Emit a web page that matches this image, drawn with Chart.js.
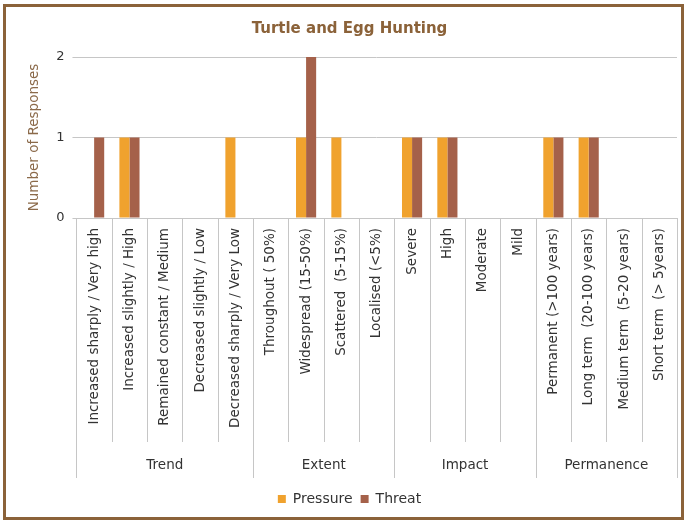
<!DOCTYPE html>
<html>
<head>
<meta charset="utf-8">
<script src="https://cdn.jsdelivr.net/npm/chart.js@4"></script>
<style>
  html, body { margin: 0; padding: 0; background: #ffffff; }
  #wrap { width: 687px; height: 522px; }
</style>
</head>
<body>
<div id="wrap"><canvas id="turtleChart" width="687" height="522"></canvas></div>
<script>
const categories = [
  "Increased sharply / Very high",
  "Increased slightly / High",
  "Remained constant / Medium",
  "Decreased slightly / Low",
  "Decreased sharply / Very Low",
  "Throughout ( 50%)",
  "Widespread (15-50%)",
  "Scattered  (5-15%)",
  "Localised (<5%)",
  "Severe",
  "High",
  "Moderate",
  "Mild",
  "Permanent (>100 years)",
  "Long term  (20-100 years)",
  "Medium term  (5-20 years)",
  "Short term  (> 5years)",
];
const groups = ["Trend", "Extent", "Impact", "Permanence"];
const groupSizes = [5, 4, 4, 4];

const pressure = [0, 1, 0, 0, 1, 0, 1, 1, 0, 1, 1, 0, 0, 1, 1, 0, 0];
const threat = [1, 1, 0, 0, 0, 0, 2, 0, 0, 1, 1, 0, 0, 1, 1, 0, 0];

const FONT = "'DejaVu Sans', sans-serif";
const lineColor = "#c6c6c6";

// frame + category / group separators below the x axis
const groupAxisPlugin = {
  id: "groupAxis",
  beforeDraw(chart) {
    const ctx = chart.ctx;
    ctx.save();
    ctx.fillStyle = "#ffffff";
    ctx.fillRect(0, 0, chart.width, chart.height);
    ctx.strokeStyle = "#8b6239";
    ctx.lineWidth = 3;
    ctx.strokeRect(4.5, 5.5, chart.width - 9, chart.height - 9);
    ctx.restore();
  },
  afterDraw(chart) {
    const ctx = chart.ctx;
    const x = chart.scales.x;
    const top = x.top;
    const step = x.width / categories.length;
    const edge = (i) => x.getPixelForTick(0) - step / 2 + i * step;

    ctx.save();
    ctx.strokeStyle = lineColor;
    ctx.lineWidth = 1;
    const groupEdges = [0];
    groupSizes.forEach((n) => groupEdges.push(groupEdges[groupEdges.length - 1] + n));

    for (let i = 0; i <= categories.length; i++) {
      const px = Math.round(edge(i)) + 0.5;
      const bottom = groupEdges.includes(i) ? top + 260 : top + 224;
      ctx.beginPath();
      ctx.moveTo(px, top);
      ctx.lineTo(px, bottom);
      ctx.stroke();
    }

    ctx.fillStyle = "#333333";
    ctx.font = "13.5px " + FONT;
    ctx.textAlign = "center";
    ctx.textBaseline = "middle";
    groups.forEach((g, gi) => {
      const cx = (edge(groupEdges[gi]) + edge(groupEdges[gi + 1])) / 2;
      ctx.fillText(g, cx, top + 247);
    });
    ctx.restore();
  },
};

const config = {
  type: "bar",
  data: {
    labels: categories,
    datasets: [
      {
        label: "Pressure",
        data: pressure,
        backgroundColor: "#f0a22e",
        barPercentage: 1,
        categoryPercentage: 0.57,
      },
      {
        label: "Threat",
        data: threat,
        backgroundColor: "#a5614a",
        barPercentage: 1,
        categoryPercentage: 0.57,
      },
    ],
  },
  options: {
    responsive: false,
    animation: false,
    layout: {
      padding: { left: 22, right: 10, top: 8, bottom: 6 },
    },
    plugins: {
      title: {
        display: true,
        text: "Turtle and Egg Hunting",
        color: "#8b6239",
        font: { family: FONT, size: 15, weight: "bold" },
        padding: { top: 12, bottom: 19 },
      },
      legend: {
        position: "bottom",
        labels: {
          color: "#333333",
          font: { family: FONT, size: 14 },
          boxWidth: 8,
          boxHeight: 8,
          padding: 8,
        },
      },
      tooltip: { enabled: false },
    },
    scales: {
      x: {
        grid: { display: false },
        border: { color: lineColor },
        ticks: {
          autoSkip: false,
          maxRotation: 90,
          minRotation: 90,
          padding: 2,
          color: "#333333",
          font: { family: FONT, size: 13.5 },
        },
        afterFit: (scale) => {
          scale.height = 266;
        },
      },
      y: {
        min: 0,
        max: 2,
        ticks: {
          stepSize: 1,
          padding: 8,
          color: "#333333",
          font: { family: FONT, size: 13 },
        },
        grid: { color: lineColor, tickLength: 4 },
        border: { display: false },
        title: {
          display: true,
          text: "Number of Responses",
          color: "#8b6a4a",
          font: { family: FONT, size: 13.5 },
          padding: { bottom: 6 },
        },
      },
    },
  },
  plugins: [groupAxisPlugin],
};

new Chart(document.getElementById("turtleChart").getContext("2d"), config);
</script>
</body>
</html>
